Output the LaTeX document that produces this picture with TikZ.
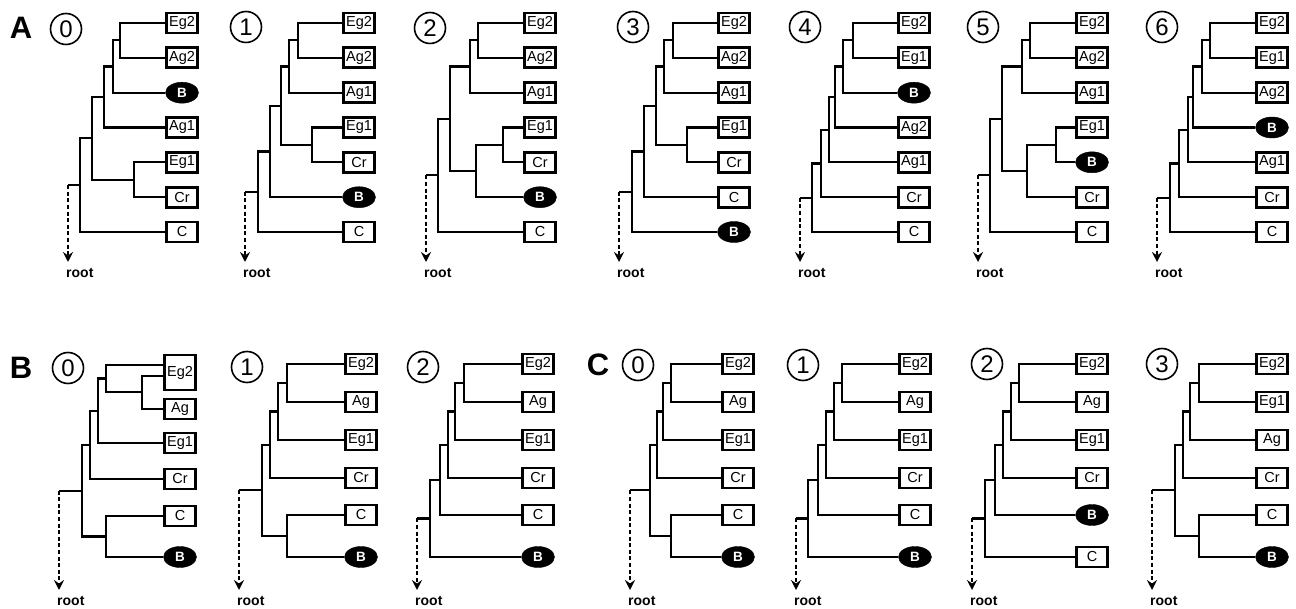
\documentclass[tikz,border=0pt]{standalone}
\usepackage{fontspec}
\setmainfont{Liberation Sans}
\usetikzlibrary{shapes.geometric,arrows.meta,calc}

\tikzset{
 leafbox/.style={draw, line width=2.7pt, minimum width=31pt, minimum height=20pt, inner sep=0pt, font=\fontsize{14.5}{14.5}\selectfont},
 leafell/.style={ellipse, fill=black, draw=black, minimum width=33pt, minimum height=21pt, inner sep=0pt, text=white, font=\bfseries\fontsize{13.5}{13.5}\selectfont},
 branch/.style={line width=2.2pt},
 rootarr/.style={line width=2.3pt, dash pattern=on 4pt off 2.6pt, -{Stealth[length=10pt,width=10pt,inset=3.5pt]}},
 rootlbl/.style={anchor=west, inner sep=0pt, font=\bfseries\fontsize{14}{14}\selectfont},
 numcirc/.style={circle, draw, line width=1.6pt, minimum size=31pt, inner sep=0pt, font=\fontsize{24}{24}\selectfont},
 panellbl/.style={inner sep=0pt, font=\bfseries\fontsize{31}{31}\selectfont},
}

\newcommand\lf[4]{\node[leafbox] (#1) at (#2,#3) {#4};}
\newcommand\lbb[3]{\node[leafell] (#1) at (#2,#3) {B};}
\newcommand\clade[4]{%
 \path let \p1=(#3), \p2=(#4) in ({#2pt},{0.5*\y1+0.5*\y2}) coordinate (#1);
 \draw[branch] (#3) -| (#1) |- (#4);}
\newcommand\rootarrow[5]{%
 \coordinate (#1e) at (#2,#4);
 \coordinate (#1s) at (#1e |- #3);
 \draw[branch] (#1s) -- (#3);
 \draw[rootarr] (#1s) -- (#1e);
 \node[rootlbl] (#1l) at (#2-2,#5) {root};}

\begin{document}
\begin{tikzpicture}[x=1pt,y=-1pt]
\useasboundingbox (0,0) rectangle (1296,609);

% panel letters
\node[panellbl] (lA) at (21,28) {A};
\node[panellbl] (lB) at (21,368) {B};
\node[panellbl] (lC) at (598,365) {C};

% circled numbers row A
\node[numcirc] (ca0) at (66,29) {0};
\node[numcirc] (ca1) at (246,27) {1};
\node[numcirc] (ca2) at (430,28) {2};
\node[numcirc] (ca3) at (633,27) {3};
\node[numcirc] (ca4) at (805,27) {4};
\node[numcirc] (ca5) at (983,27) {5};
\node[numcirc] (ca6) at (1162,27) {6};
% circled numbers row B/C
\node[numcirc] (cb0) at (68,368) {0};
\node[numcirc] (cb1) at (247,367) {1};
\node[numcirc] (cb2) at (423,367) {2};
\node[numcirc] (cc0) at (638,365) {0};
\node[numcirc] (cc1) at (803,365) {1};
\node[numcirc] (cc2) at (987,364) {2};
\node[numcirc] (cc3) at (1162,364) {3};

% ================= Row A =================
% A0
\lf{a0Eg2}{182}{23}{Eg2}
\lf{a0Ag2}{182}{57.8}{Ag2}
\lbb{a0B}{182}{92.7}
\lf{a0Ag1}{182}{127.5}{Ag1}
\lf{a0Eg1}{182}{162.3}{Eg1}
\lf{a0Cr}{182}{197.2}{Cr}
\lf{a0C}{182}{232}{C}
\clade{a0n1}{120}{a0Eg2.west}{a0Ag2.west}
\clade{a0n2}{113}{a0n1}{a0B.west}
\clade{a0n3}{104}{a0n2}{a0Ag1.west}
\clade{a0n4}{134}{a0Eg1.west}{a0Cr.west}
\clade{a0n5}{92}{a0n3}{a0n4}
\clade{a0n6}{80}{a0n5}{a0C.west}
\rootarrow{a0r}{68}{a0n6}{262}{273}

% A1
\lf{a1Eg2}{359}{23}{Eg2}
\lf{a1Ag2}{359}{57.8}{Ag2}
\lf{a1Ag1}{359}{92.7}{Ag1}
\lf{a1Eg1}{359}{127.5}{Eg1}
\lf{a1Cr}{359}{162.3}{Cr}
\lbb{a1B}{359}{197.2}
\lf{a1C}{359}{232}{C}
\clade{a1n1}{298}{a1Eg2.west}{a1Ag2.west}
\clade{a1n2}{289}{a1n1}{a1Ag1.west}
\clade{a1n3}{312}{a1Eg1.west}{a1Cr.west}
\clade{a1n4}{281}{a1n2}{a1n3}
\clade{a1n5}{270}{a1n4}{a1B.west}
\clade{a1n6}{258}{a1n5}{a1C.west}
\rootarrow{a1r}{245}{a1n6}{262}{273}

% A2
\lf{a2Eg2}{540}{23}{Eg2}
\lf{a2Ag2}{540}{57.8}{Ag2}
\lf{a2Ag1}{540}{92.7}{Ag1}
\lf{a2Eg1}{540}{127.5}{Eg1}
\lf{a2Cr}{540}{162.3}{Cr}
\lbb{a2B}{540}{197.2}
\lf{a2C}{540}{232}{C}
\clade{a2n1}{478}{a2Eg2.west}{a2Ag2.west}
\clade{a2n2}{470}{a2n1}{a2Ag1.west}
\clade{a2n3}{503}{a2Eg1.west}{a2Cr.west}
\clade{a2n4}{476}{a2n3}{a2B.west}
\clade{a2n5}{450}{a2n2}{a2n4}
\clade{a2n6}{438}{a2n5}{a2C.west}
\rootarrow{a2r}{426}{a2n6}{262}{273}

% A3
\lf{a3Eg2}{734}{23}{Eg2}
\lf{a3Ag2}{734}{57.8}{Ag2}
\lf{a3Ag1}{734}{92.7}{Ag1}
\lf{a3Eg1}{734}{127.5}{Eg1}
\lf{a3Cr}{734}{162.3}{Cr}
\lf{a3C}{734}{197.2}{C}
\lbb{a3B}{734}{232}
\clade{a3n1}{673}{a3Eg2.west}{a3Ag2.west}
\clade{a3n2}{664}{a3n1}{a3Ag1.west}
\clade{a3n3}{687}{a3Eg1.west}{a3Cr.west}
\clade{a3n4}{656}{a3n2}{a3n3}
\clade{a3n5}{644}{a3n4}{a3C.west}
\clade{a3n6}{632}{a3n5}{a3B.west}
\rootarrow{a3r}{619}{a3n6}{262}{273}

% A4
\lf{a4Eg2}{914}{23}{Eg2}
\lf{a4Eg1}{914}{57.8}{Eg1}
\lbb{a4B}{914}{92.7}
\lf{a4Ag2}{914}{127.5}{Ag2}
\lf{a4Ag1}{914}{162.3}{Ag1}
\lf{a4Cr}{914}{197.2}{Cr}
\lf{a4C}{914}{232}{C}
\clade{a4n1}{853}{a4Eg2.west}{a4Eg1.west}
\clade{a4n2}{843}{a4n1}{a4B.west}
\clade{a4n3}{835}{a4n2}{a4Ag2.west}
\clade{a4n4}{829}{a4n3}{a4Ag1.west}
\clade{a4n5}{821}{a4n4}{a4Cr.west}
\clade{a4n6}{812}{a4n5}{a4C.west}
\rootarrow{a4r}{800}{a4n6}{262}{273}

% A5
\lf{a5Eg2}{1092}{23}{Eg2}
\lf{a5Ag2}{1092}{57.8}{Ag2}
\lf{a5Ag1}{1092}{92.7}{Ag1}
\lf{a5Eg1}{1092}{127.5}{Eg1}
\lbb{a5B}{1092}{162.3}
\lf{a5Cr}{1092}{197.2}{Cr}
\lf{a5C}{1092}{232}{C}
\clade{a5n1}{1030}{a5Eg2.west}{a5Ag2.west}
\clade{a5n2}{1022}{a5n1}{a5Ag1.west}
\clade{a5n3}{1056}{a5Eg1.west}{a5B.west}
\clade{a5n4}{1027}{a5n3}{a5Cr.west}
\clade{a5n5}{1002}{a5n2}{a5n4}
\clade{a5n6}{990}{a5n5}{a5C.west}
\rootarrow{a5r}{978}{a5n6}{262}{273}

% A6
\lf{a6Eg2}{1272}{23}{Eg2}
\lf{a6Eg1}{1272}{57.8}{Eg1}
\lf{a6Ag2}{1272}{92.7}{Ag2}
\lbb{a6B}{1272}{127.5}
\lf{a6Ag1}{1272}{162.3}{Ag1}
\lf{a6Cr}{1272}{197.2}{Cr}
\lf{a6C}{1272}{232}{C}
\clade{a6n1}{1210}{a6Eg2.west}{a6Eg1.west}
\clade{a6n2}{1202}{a6n1}{a6Ag2.west}
\clade{a6n3}{1193}{a6n2}{a6B.west}
\clade{a6n4}{1188}{a6n3}{a6Ag1.west}
\clade{a6n5}{1179}{a6n4}{a6Cr.west}
\clade{a6n6}{1170}{a6n5}{a6C.west}
\rootarrow{a6r}{1157}{a6n6}{262}{273}

% ================= Row B =================
% B0
\node[leafbox, minimum height=35pt] (b0Eg2) at (180,372.5) {Eg2};
\coordinate (b0e2a) at ($(b0Eg2.north west)+(0,11)$);
\coordinate (b0e2b) at ($(b0Eg2.north west)+(0,22)$);
\lf{b0Ag}{180}{409}{Ag}
\lf{b0Eg1}{180}{443}{Eg1}
\lf{b0Cr}{180}{479}{Cr}
\lf{b0C}{180}{516}{C}
\lbb{b0B}{180}{557}
\clade{b0n1}{142}{b0e2b}{b0Ag.west}
\clade{b0n2}{106}{b0e2a}{b0n1}
\clade{b0n3}{98}{b0n2}{b0Eg1.west}
\clade{b0n4}{90}{b0n3}{b0Cr.west}
\clade{b0n5}{106}{b0C.west}{b0B.west}
\clade{b0n6}{82}{b0n4}{b0n5}
\rootarrow{b0r}{59}{b0n6}{590}{601}

% B1
\lf{b1Eg2}{361}{364}{Eg2}
\lf{b1Ag}{361}{402}{Ag}
\lf{b1Eg1}{361}{440}{Eg1}
\lf{b1Cr}{361}{478}{Cr}
\lf{b1C}{361}{515}{C}
\lbb{b1B}{361}{557}
\clade{b1n1}{287}{b1Eg2.west}{b1Ag.west}
\clade{b1n2}{278}{b1n1}{b1Eg1.west}
\clade{b1n3}{270}{b1n2}{b1Cr.west}
\clade{b1n4}{287}{b1C.west}{b1B.west}
\clade{b1n5}{262}{b1n3}{b1n4}
\rootarrow{b1r}{239}{b1n5}{590}{601}

% B2
\lf{b2Eg2}{538}{364}{Eg2}
\lf{b2Ag}{538}{402}{Ag}
\lf{b2Eg1}{538}{440}{Eg1}
\lf{b2Cr}{538}{478}{Cr}
\lf{b2C}{538}{515}{C}
\lbb{b2B}{538}{557}
\clade{b2n1}{464}{b2Eg2.west}{b2Ag.west}
\clade{b2n2}{455}{b2n1}{b2Eg1.west}
\clade{b2n3}{448}{b2n2}{b2Cr.west}
\clade{b2n4}{440}{b2n3}{b2C.west}
\clade{b2n5}{430}{b2n4}{b2B.west}
\rootarrow{b2r}{417}{b2n5}{590}{601}

% C0
\lf{c0Eg2}{738}{364}{Eg2}
\lf{c0Ag}{738}{402}{Ag}
\lf{c0Eg1}{738}{440}{Eg1}
\lf{c0Cr}{738}{478}{Cr}
\lf{c0C}{738}{515}{C}
\lbb{c0B}{738}{557}
\clade{c0n1}{671}{c0Eg2.west}{c0Ag.west}
\clade{c0n2}{663}{c0n1}{c0Eg1.west}
\clade{c0n3}{657}{c0n2}{c0Cr.west}
\clade{c0n4}{671}{c0C.west}{c0B.west}
\clade{c0n5}{650}{c0n3}{c0n4}
\rootarrow{c0r}{630}{c0n5}{590}{601}

% C1
\lf{c1Eg2}{915}{364}{Eg2}
\lf{c1Ag}{915}{402}{Ag}
\lf{c1Eg1}{915}{440}{Eg1}
\lf{c1Cr}{915}{478}{Cr}
\lf{c1C}{915}{515}{C}
\lbb{c1B}{915}{557}
\clade{c1n1}{842}{c1Eg2.west}{c1Ag.west}
\clade{c1n2}{834}{c1n1}{c1Eg1.west}
\clade{c1n3}{826}{c1n2}{c1Cr.west}
\clade{c1n4}{818}{c1n3}{c1C.west}
\clade{c1n5}{808}{c1n4}{c1B.west}
\rootarrow{c1r}{796}{c1n5}{590}{601}

% C2
\lf{c2Eg2}{1092}{364}{Eg2}
\lf{c2Ag}{1092}{402}{Ag}
\lf{c2Eg1}{1092}{440}{Eg1}
\lf{c2Cr}{1092}{478}{Cr}
\lbb{c2B}{1092}{515}
\lf{c2C}{1092}{557}{C}
\clade{c2n1}{1019}{c2Eg2.west}{c2Ag.west}
\clade{c2n2}{1011}{c2n1}{c2Eg1.west}
\clade{c2n3}{1003}{c2n2}{c2Cr.west}
\clade{c2n4}{995}{c2n3}{c2B.west}
\clade{c2n5}{985}{c2n4}{c2C.west}
\rootarrow{c2r}{972}{c2n5}{590}{601}

% C3
\lf{c3Eg2}{1272}{364}{Eg2}
\lf{c3Eg1}{1272}{402}{Eg1}
\lf{c3Ag}{1272}{440}{Ag}
\lf{c3Cr}{1272}{478}{Cr}
\lf{c3C}{1272}{515}{C}
\lbb{c3B}{1272}{557}
\clade{c3n1}{1199}{c3Eg2.west}{c3Eg1.west}
\clade{c3n2}{1190}{c3n1}{c3Ag.west}
\clade{c3n3}{1183}{c3n2}{c3Cr.west}
\clade{c3n4}{1199}{c3C.west}{c3B.west}
\clade{c3n5}{1175}{c3n3}{c3n4}
\rootarrow{c3r}{1152}{c3n5}{590}{601}

\end{tikzpicture}
\end{document}
